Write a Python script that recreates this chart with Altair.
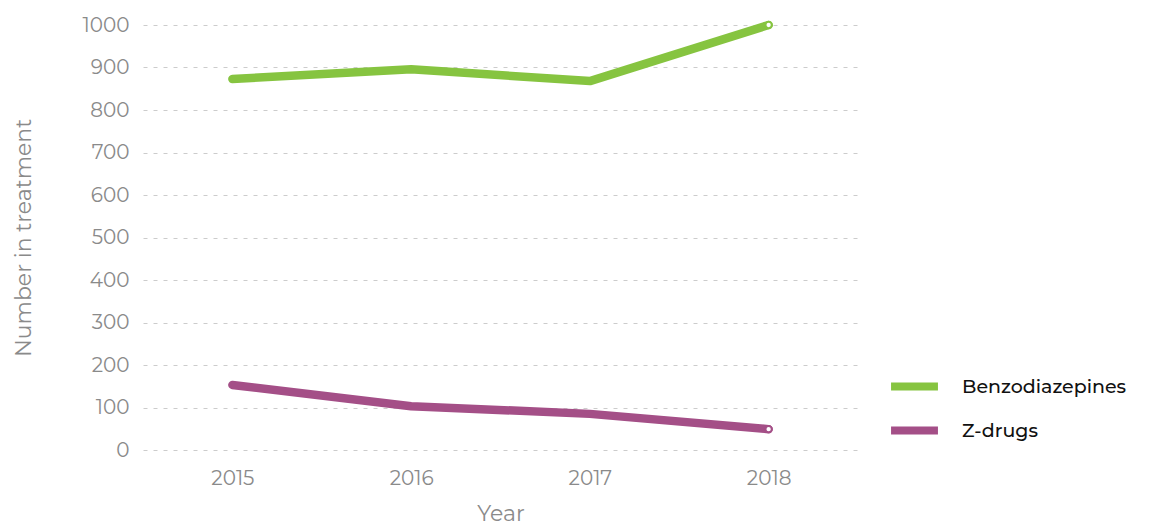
import altair as alt
import pandas as pd

years = ["2015", "2016", "2017", "2018"]
benzo = [873, 896, 868, 1000]
zdrugs = [153, 103, 85, 49]
series = ["Benzodiazepines", "Z-drugs"]
colors = ["#86c440", "#a44f87"]
y_ticks = [0, 100, 200, 300, 400, 500, 600, 700, 800, 900, 1000]

rows = []
for name, vals in zip(series, [benzo, zdrugs]):
    for yr, v in zip(years, vals):
        rows.append({"Year": yr, "Value": v, "Series": name})
df = pd.DataFrame(rows)

FONT = "Montserrat, Lato, Open Sans, sans-serif"

x = alt.X("Year:O", scale=alt.Scale(type="point", padding=0.5),
          axis=alt.Axis(title="Year", labelAngle=0, ticks=False, domain=False,
                        grid=False, labelPadding=18, titlePadding=15))
y = alt.Y("Value:Q", scale=alt.Scale(domain=[0, 1000], nice=False),
          axis=alt.Axis(title="Number in treatment", values=y_ticks, format="d", ticks=False,
                        domain=False, labelPadding=14, titlePadding=47,
                        gridDash=[4, 6], gridColor="#cccccc"))
color = alt.Color("Series:N", scale=alt.Scale(domain=series, range=colors),
                  legend=alt.Legend(title=None, orient="none", legendX=744, legendY=334,
                                    symbolType="stroke", symbolStrokeWidth=8,
                                    symbolSize=2200, labelFontSize=19, labelLimit=300,
                                    labelColor="#111111", labelFont=FONT, labelFontWeight=500,
                                    rowPadding=0, labelOffset=20))

lines = alt.Chart(df).mark_line(strokeWidth=8.5, interpolate="linear", strokeCap="round",
                                strokeJoin="round").encode(x=x, y=y, color=color)

ends = alt.Chart(df).transform_filter(alt.datum.Year == "2018").mark_point(
    filled=True, fill="white", size=40, strokeWidth=2, opacity=1).encode(
    x=x, y=y, stroke=alt.Stroke("Series:N", scale=alt.Scale(domain=series, range=colors), legend=None))

chart = alt.layer(lines, ends).properties(
    width=715, height=425,
    padding={"left": 4, "top": 7, "right": 5, "bottom": 5}
).configure_view(stroke=None).configure_axis(
    labelFont=FONT, titleFont=FONT, labelFontSize=20, titleFontSize=22,
    labelColor="#8a8a8a", titleColor="#8a8a8a", titleFontWeight="normal"
)

chart.save("out.html", embed_options={"renderer": "svg", "actions": False})
